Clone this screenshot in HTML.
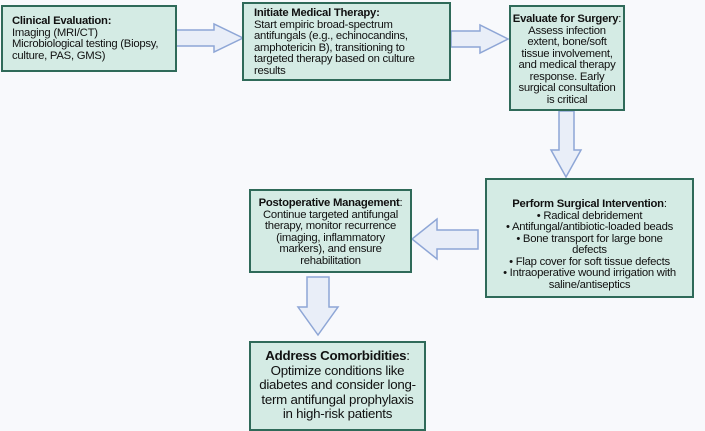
<!DOCTYPE html>
<html><head><style>
body{margin:0;width:705px;height:426px;background:#f8f9fc;position:relative;overflow:hidden;font-family:"Liberation Sans",sans-serif;color:#111}
.b{position:absolute;box-sizing:border-box;background:#d4ebe4;border:2px solid #2f6a59;font-size:11.3px;line-height:11.5px;letter-spacing:-0.25px;white-space:nowrap}
.c{text-align:center}
svg{position:absolute;left:0;top:0}
</style></head><body>
<svg width="705" height="426">
<g fill="#e9eef8" stroke="#8ea6d6" stroke-width="1.5">
<polygon points="176,30 214,30 214,24 243,38 214,52 214,46 176,46"/>
<polygon points="451,31 480,31 480,25 508,39 480,53 480,47 451,47"/>
<polygon points="559,111 574,111 574,150 581,150 566,177 551,150 559,150"/>
<polygon points="478,230 437,230 437,219 412,239 437,259 437,249 478,249"/>
<polygon points="307,277 329,277 329,307 338,307 318,335 298,307 307,307"/>
</g></svg>
<div class="b" style="left:1px;top:5px;width:176px;height:67px;padding:9px 9px"><b>Clinical Evaluation:</b><br>Imaging (MRI/CT)<br>Microbiological testing (Biopsy,<br>culture, PAS, GMS)</div>
<div class="b" style="left:242px;top:2px;width:209px;height:79px;padding:4px 10px"><b>Initiate Medical Therapy:</b><br>Start empiric broad-spectrum<br>antifungals (e.g., echinocandins,<br>amphotericin B), transitioning to<br>targeted therapy based on culture<br>results</div>
<div class="b c" style="left:509px;top:5px;width:116px;height:106px;padding:7px 0"><b>Evaluate for Surgery</b>:<br>Assess infection<br>extent, bone/soft<br>tissue involvement,<br>and medical therapy<br>response. Early<br>surgical consultation<br>is critical</div>
<div class="b c" style="left:485px;top:178px;width:209px;height:120px;padding:19px 0 0"><b>Perform Surgical Intervention</b>:<br>• Radical debridement<br>• Antifungal/antibiotic-loaded beads<br>• Bone transport for large bone<br>defects<br>• Flap cover for soft tissue defects<br>• Intraoperative wound irrigation with<br>saline/antiseptics</div>
<div class="b c" style="left:249px;top:189px;width:163px;height:84px;padding:7px 0"><b>Postoperative Management</b>:<br>Continue targeted antifungal<br>therapy, monitor recurrence<br>(imaging, inflammatory<br>markers), and ensure<br>rehabilitation</div>
<div class="b c" style="left:249px;top:341px;width:177px;height:90px;padding:6px 0;font-size:13.3px;line-height:14.5px"><b>Address Comorbidities</b>:<br>Optimize conditions like<br>diabetes and consider long-<br>term antifungal prophylaxis<br>in high-risk patients</div>
</body></html>
